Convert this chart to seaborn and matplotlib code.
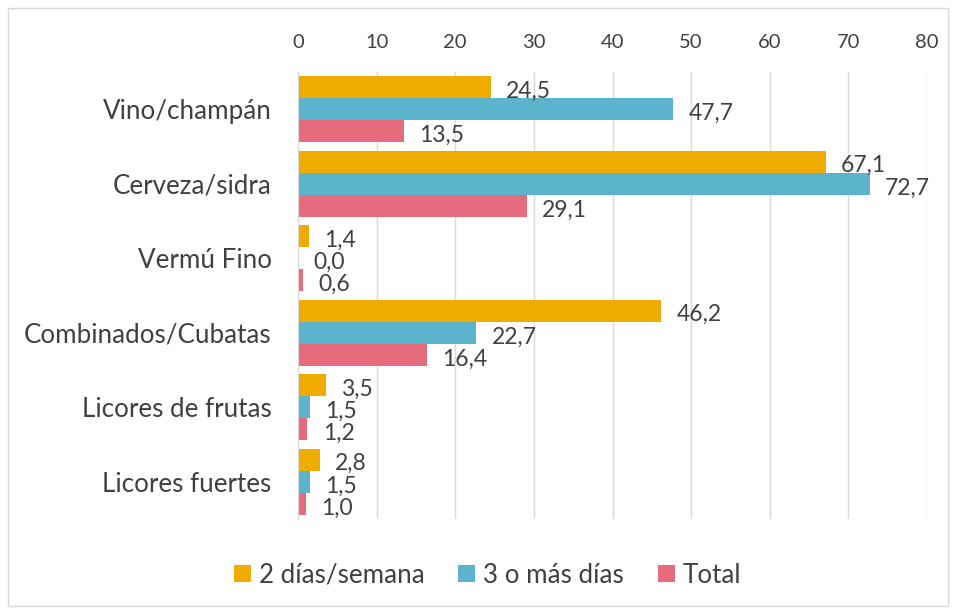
import pandas as pd
import matplotlib.pyplot as plt
import seaborn as sns
from matplotlib.patches import Rectangle

# Consumo por tipo de bebida
categorias = ['Vino/champán', 'Cerveza/sidra', 'Vermú Fino',
              'Combinados/Cubatas', 'Licores de frutas', 'Licores fuertes']
dos_dias = [24.5, 67.1, 1.4, 46.2, 3.5, 2.8]
tres_mas = [47.7, 72.7, 0.0, 22.7, 1.5, 1.5]
total = [13.5, 29.1, 0.6, 16.4, 1.2, 1.0]
series = ['2 días/semana', '3 o más días', 'Total']
colores = ['#F0AB00', '#5BB3CC', '#E66C7D']

df = pd.DataFrame({
    'Categoria': categorias * 3,
    'Valor': dos_dias + tres_mas + total,
    'Serie': [s for s in series for _ in categorias],
})

sns.set_style('white')
plt.rcParams['font.family'] = ['Lato', 'DejaVu Sans']
texto = '#404040'

fig = plt.figure(figsize=(9.56, 6.12), dpi=100)
ax = fig.add_axes([0.3117, 0.152, 0.658, 0.7304])

sns.barplot(data=df, y='Categoria', x='Valor', hue='Serie', orient='h',
            palette=colores, width=0.89, ax=ax, saturation=1, linewidth=0)

for cont in ax.containers:
    for bar in cont:
        v = bar.get_width()
        y = bar.get_y() + bar.get_height() / 2
        ax.annotate(f'{v:.1f}'.replace('.', ','), (v, y), xytext=(11, -3),
                    textcoords='offset points', va='center', ha='left',
                    fontsize=16.5, color=texto)

ax.set_xlim(0, 80)
ax.set_xticks(range(0, 81, 10))
ax.xaxis.tick_top()
ax.tick_params(axis='x', length=0, pad=15, labelsize=14.5, labelcolor=texto)
ax.tick_params(axis='y', length=0, pad=19, labelsize=18.7, labelcolor=texto)
ax.set_xlabel('')
ax.set_ylabel('')
ax.grid(axis='x', color='#D9D9D9', linewidth=1)
ax.set_axisbelow(True)
for s in ['top', 'right', 'bottom']:
    ax.spines[s].set_visible(False)
ax.spines['left'].set_color('#D9D9D9')

ax.legend(loc='center', bbox_to_anchor=(0.51, 0.06), bbox_transform=fig.transFigure,
          ncol=3, frameon=False, fontsize=18.7, handlelength=0.65, handleheight=0.65,
          handletextpad=0.3, columnspacing=1.3, labelcolor=texto)

fig.patches.append(Rectangle((0.008, 0.01), 0.984, 0.977, transform=fig.transFigure,
                             fill=False, edgecolor='#D9D9D9', linewidth=1))

fig.savefig('out.png', dpi=100)
